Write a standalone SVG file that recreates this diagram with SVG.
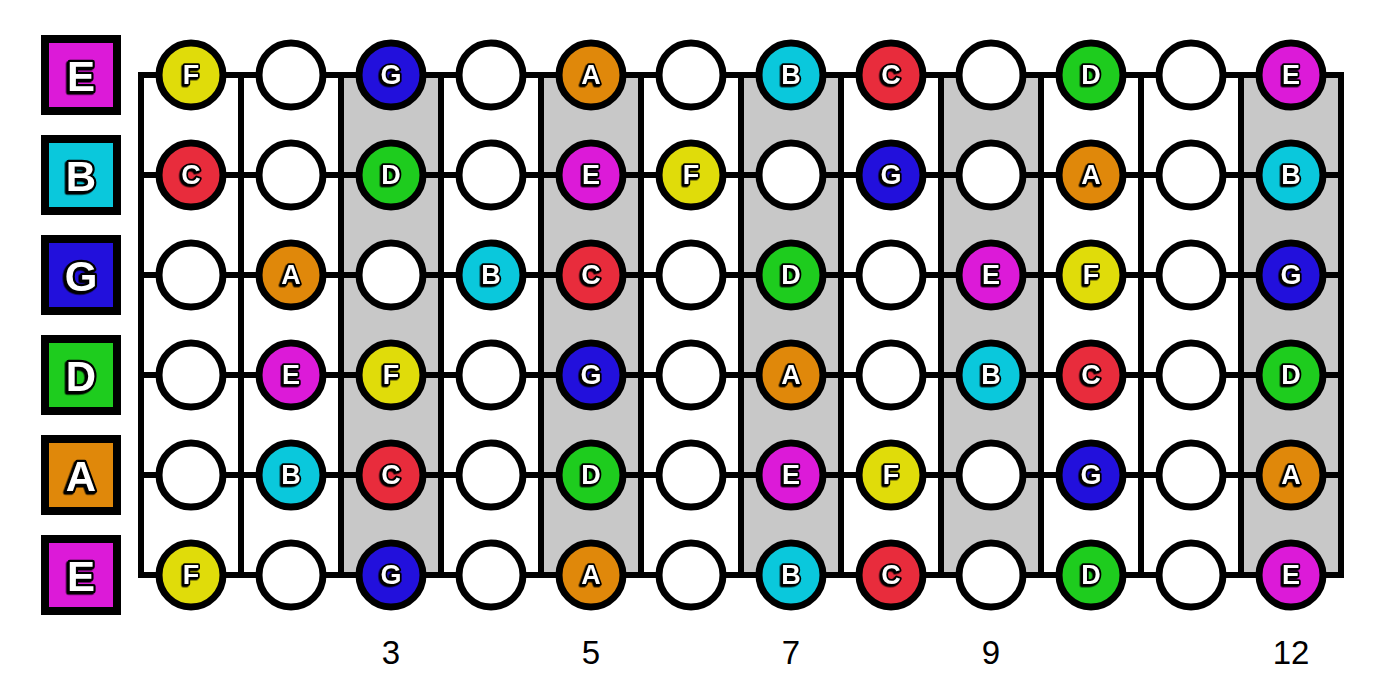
<svg xmlns="http://www.w3.org/2000/svg" width="1400" height="694" viewBox="0 0 1400 694">
<style>
.bg{fill:#ffffff}
.mark{fill:#c8c8c8}
.ln{stroke:#000;stroke-width:6;fill:none}
.lbl{stroke:#000;stroke-width:8}
.dot{stroke:#000;stroke-width:7}
.t{font-family:"Liberation Sans",Arial,sans-serif;font-weight:bold;fill:#fff;stroke:#000;stroke-width:3.5;paint-order:stroke;stroke-linejoin:round;text-anchor:middle;dominant-baseline:central;filter:url(#sh)}
.tl{font-size:42px;stroke-width:4.5}
.tn{font-size:27px}
.num{font-family:"Liberation Sans",Arial,sans-serif;font-size:33px;fill:#000;text-anchor:middle}
.E{fill:#dc1ad8}.B{fill:#0ac8dc}.G{fill:#2210dc}.D{fill:#1ecc1e}.A{fill:#e0880a}.C{fill:#e82c3c}.F{fill:#e0dc0a}.N{fill:#fff}
</style>
<defs>
<filter id="sh" x="-30%" y="-30%" width="160%" height="160%">
<feDropShadow dx="-1.5" dy="1.5" stdDeviation="0" flood-color="#000" flood-opacity="1"/>
</filter>
</defs>
<rect class="bg" x="0" y="0" width="1400" height="694"/>
<g id="markers">
<rect class="mark" x="341" y="75" width="100" height="500"/>
<rect class="mark" x="541" y="75" width="100" height="500"/>
<rect class="mark" x="741" y="75" width="100" height="500"/>
<rect class="mark" x="941" y="75" width="100" height="500"/>
<rect class="mark" x="1241" y="75" width="100" height="500"/>
</g>
<g id="connectors">
<path class="ln" d="M141 75H1341M141 175H1341M141 275H1341M141 375H1341M141 475H1341M141 575H1341"/>
<path class="ln" d="M141 72V578M241 75V575M341 75V575M441 75V575M541 75V575M641 75V575M741 75V575M841 75V575M941 75V575M1041 75V575M1141 75V575M1241 75V575M1341 72V578"/>
</g>
<g id="string-labels">
<g id="lbl-1"><rect class="lbl E" x="45" y="39" width="72" height="72"/><text class="t tl" x="81" y="76">E</text></g>
<g id="lbl-2"><rect class="lbl B" x="45" y="139" width="72" height="72"/><text class="t tl" x="81" y="176">B</text></g>
<g id="lbl-3"><rect class="lbl G" x="45" y="239" width="72" height="72"/><text class="t tl" x="81" y="276">G</text></g>
<g id="lbl-4"><rect class="lbl D" x="45" y="339" width="72" height="72"/><text class="t tl" x="81" y="376">D</text></g>
<g id="lbl-5"><rect class="lbl A" x="45" y="439" width="72" height="72"/><text class="t tl" x="81" y="476">A</text></g>
<g id="lbl-6"><rect class="lbl E" x="45" y="539" width="72" height="72"/><text class="t tl" x="81" y="576">E</text></g>
</g>
<g id="notes">
<g id="s1f1"><circle class="dot F" cx="191" cy="75" r="32"/><text class="t tn" x="191" y="75">F</text></g>
<g id="s1f2"><circle class="dot N" cx="291" cy="75" r="32"/></g>
<g id="s1f3"><circle class="dot G" cx="391" cy="75" r="32"/><text class="t tn" x="391" y="75">G</text></g>
<g id="s1f4"><circle class="dot N" cx="491" cy="75" r="32"/></g>
<g id="s1f5"><circle class="dot A" cx="591" cy="75" r="32"/><text class="t tn" x="591" y="75">A</text></g>
<g id="s1f6"><circle class="dot N" cx="691" cy="75" r="32"/></g>
<g id="s1f7"><circle class="dot B" cx="791" cy="75" r="32"/><text class="t tn" x="791" y="75">B</text></g>
<g id="s1f8"><circle class="dot C" cx="891" cy="75" r="32"/><text class="t tn" x="891" y="75">C</text></g>
<g id="s1f9"><circle class="dot N" cx="991" cy="75" r="32"/></g>
<g id="s1f10"><circle class="dot D" cx="1091" cy="75" r="32"/><text class="t tn" x="1091" y="75">D</text></g>
<g id="s1f11"><circle class="dot N" cx="1191" cy="75" r="32"/></g>
<g id="s1f12"><circle class="dot E" cx="1291" cy="75" r="32"/><text class="t tn" x="1291" y="75">E</text></g>
<g id="s2f1"><circle class="dot C" cx="191" cy="175" r="32"/><text class="t tn" x="191" y="175">C</text></g>
<g id="s2f2"><circle class="dot N" cx="291" cy="175" r="32"/></g>
<g id="s2f3"><circle class="dot D" cx="391" cy="175" r="32"/><text class="t tn" x="391" y="175">D</text></g>
<g id="s2f4"><circle class="dot N" cx="491" cy="175" r="32"/></g>
<g id="s2f5"><circle class="dot E" cx="591" cy="175" r="32"/><text class="t tn" x="591" y="175">E</text></g>
<g id="s2f6"><circle class="dot F" cx="691" cy="175" r="32"/><text class="t tn" x="691" y="175">F</text></g>
<g id="s2f7"><circle class="dot N" cx="791" cy="175" r="32"/></g>
<g id="s2f8"><circle class="dot G" cx="891" cy="175" r="32"/><text class="t tn" x="891" y="175">G</text></g>
<g id="s2f9"><circle class="dot N" cx="991" cy="175" r="32"/></g>
<g id="s2f10"><circle class="dot A" cx="1091" cy="175" r="32"/><text class="t tn" x="1091" y="175">A</text></g>
<g id="s2f11"><circle class="dot N" cx="1191" cy="175" r="32"/></g>
<g id="s2f12"><circle class="dot B" cx="1291" cy="175" r="32"/><text class="t tn" x="1291" y="175">B</text></g>
<g id="s3f1"><circle class="dot N" cx="191" cy="275" r="32"/></g>
<g id="s3f2"><circle class="dot A" cx="291" cy="275" r="32"/><text class="t tn" x="291" y="275">A</text></g>
<g id="s3f3"><circle class="dot N" cx="391" cy="275" r="32"/></g>
<g id="s3f4"><circle class="dot B" cx="491" cy="275" r="32"/><text class="t tn" x="491" y="275">B</text></g>
<g id="s3f5"><circle class="dot C" cx="591" cy="275" r="32"/><text class="t tn" x="591" y="275">C</text></g>
<g id="s3f6"><circle class="dot N" cx="691" cy="275" r="32"/></g>
<g id="s3f7"><circle class="dot D" cx="791" cy="275" r="32"/><text class="t tn" x="791" y="275">D</text></g>
<g id="s3f8"><circle class="dot N" cx="891" cy="275" r="32"/></g>
<g id="s3f9"><circle class="dot E" cx="991" cy="275" r="32"/><text class="t tn" x="991" y="275">E</text></g>
<g id="s3f10"><circle class="dot F" cx="1091" cy="275" r="32"/><text class="t tn" x="1091" y="275">F</text></g>
<g id="s3f11"><circle class="dot N" cx="1191" cy="275" r="32"/></g>
<g id="s3f12"><circle class="dot G" cx="1291" cy="275" r="32"/><text class="t tn" x="1291" y="275">G</text></g>
<g id="s4f1"><circle class="dot N" cx="191" cy="375" r="32"/></g>
<g id="s4f2"><circle class="dot E" cx="291" cy="375" r="32"/><text class="t tn" x="291" y="375">E</text></g>
<g id="s4f3"><circle class="dot F" cx="391" cy="375" r="32"/><text class="t tn" x="391" y="375">F</text></g>
<g id="s4f4"><circle class="dot N" cx="491" cy="375" r="32"/></g>
<g id="s4f5"><circle class="dot G" cx="591" cy="375" r="32"/><text class="t tn" x="591" y="375">G</text></g>
<g id="s4f6"><circle class="dot N" cx="691" cy="375" r="32"/></g>
<g id="s4f7"><circle class="dot A" cx="791" cy="375" r="32"/><text class="t tn" x="791" y="375">A</text></g>
<g id="s4f8"><circle class="dot N" cx="891" cy="375" r="32"/></g>
<g id="s4f9"><circle class="dot B" cx="991" cy="375" r="32"/><text class="t tn" x="991" y="375">B</text></g>
<g id="s4f10"><circle class="dot C" cx="1091" cy="375" r="32"/><text class="t tn" x="1091" y="375">C</text></g>
<g id="s4f11"><circle class="dot N" cx="1191" cy="375" r="32"/></g>
<g id="s4f12"><circle class="dot D" cx="1291" cy="375" r="32"/><text class="t tn" x="1291" y="375">D</text></g>
<g id="s5f1"><circle class="dot N" cx="191" cy="475" r="32"/></g>
<g id="s5f2"><circle class="dot B" cx="291" cy="475" r="32"/><text class="t tn" x="291" y="475">B</text></g>
<g id="s5f3"><circle class="dot C" cx="391" cy="475" r="32"/><text class="t tn" x="391" y="475">C</text></g>
<g id="s5f4"><circle class="dot N" cx="491" cy="475" r="32"/></g>
<g id="s5f5"><circle class="dot D" cx="591" cy="475" r="32"/><text class="t tn" x="591" y="475">D</text></g>
<g id="s5f6"><circle class="dot N" cx="691" cy="475" r="32"/></g>
<g id="s5f7"><circle class="dot E" cx="791" cy="475" r="32"/><text class="t tn" x="791" y="475">E</text></g>
<g id="s5f8"><circle class="dot F" cx="891" cy="475" r="32"/><text class="t tn" x="891" y="475">F</text></g>
<g id="s5f9"><circle class="dot N" cx="991" cy="475" r="32"/></g>
<g id="s5f10"><circle class="dot G" cx="1091" cy="475" r="32"/><text class="t tn" x="1091" y="475">G</text></g>
<g id="s5f11"><circle class="dot N" cx="1191" cy="475" r="32"/></g>
<g id="s5f12"><circle class="dot A" cx="1291" cy="475" r="32"/><text class="t tn" x="1291" y="475">A</text></g>
<g id="s6f1"><circle class="dot F" cx="191" cy="575" r="32"/><text class="t tn" x="191" y="575">F</text></g>
<g id="s6f2"><circle class="dot N" cx="291" cy="575" r="32"/></g>
<g id="s6f3"><circle class="dot G" cx="391" cy="575" r="32"/><text class="t tn" x="391" y="575">G</text></g>
<g id="s6f4"><circle class="dot N" cx="491" cy="575" r="32"/></g>
<g id="s6f5"><circle class="dot A" cx="591" cy="575" r="32"/><text class="t tn" x="591" y="575">A</text></g>
<g id="s6f6"><circle class="dot N" cx="691" cy="575" r="32"/></g>
<g id="s6f7"><circle class="dot B" cx="791" cy="575" r="32"/><text class="t tn" x="791" y="575">B</text></g>
<g id="s6f8"><circle class="dot C" cx="891" cy="575" r="32"/><text class="t tn" x="891" y="575">C</text></g>
<g id="s6f9"><circle class="dot N" cx="991" cy="575" r="32"/></g>
<g id="s6f10"><circle class="dot D" cx="1091" cy="575" r="32"/><text class="t tn" x="1091" y="575">D</text></g>
<g id="s6f11"><circle class="dot N" cx="1191" cy="575" r="32"/></g>
<g id="s6f12"><circle class="dot E" cx="1291" cy="575" r="32"/><text class="t tn" x="1291" y="575">E</text></g>
</g>
<g id="fret-numbers">
<text class="num" x="391" y="664">3</text>
<text class="num" x="591" y="664">5</text>
<text class="num" x="791" y="664">7</text>
<text class="num" x="991" y="664">9</text>
<text class="num" x="1291" y="664">12</text>
</g>
</svg>
